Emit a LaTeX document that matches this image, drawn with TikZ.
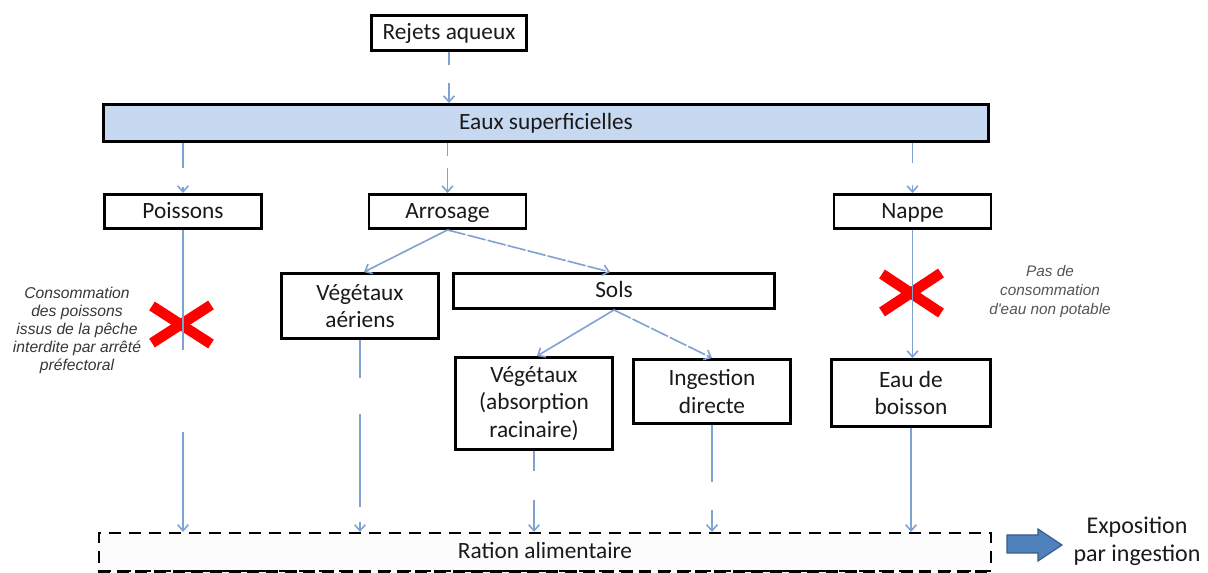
\documentclass[tikz,border=0pt]{standalone}
\usepackage{fontspec}
\setmainfont{Carlito}
\newfontfamily\notefont{Liberation Sans}
\usetikzlibrary{arrows.meta,calc}
\definecolor{conncol}{RGB}{128,162,210}
\definecolor{eauxfill}{RGB}{198,217,241}
\definecolor{arrowfill}{RGB}{79,129,189}
\definecolor{arrowline}{RGB}{56,93,138}
\definecolor{textcol}{RGB}{26,26,26}
\definecolor{noteL}{RGB}{55,55,55}
\definecolor{noteR}{RGB}{85,85,85}
\definecolor{rationfill}{RGB}{252,252,252}
\definecolor{crossred}{RGB}{255,0,0}
\begin{document}
\begin{tikzpicture}[x=0.75pt,y=-0.75pt,
  box/.style={draw=black, line width=2.2pt, fill=white, inner sep=2pt, align=center,
    text=textcol, font=\fontsize{17.5}{20.8}\selectfont},
  oneline/.style={text height=15pt, text depth=4.5pt},
  conn/.style={draw=conncol, line width=1.2pt, -{Straight Barb[length=4.5pt,width=8pt]}},
  note/.style={align=center, inner sep=0pt},
  rationbox/.style={draw=black, line width=1.6pt, dash pattern=on 9pt off 6pt, fill=rationfill,
    inner sep=2pt, text=textcol, font=\fontsize{17.5}{20.8}\selectfont}]
\useasboundingbox (0,0) rectangle (1208,573);
\fill[white] (0,0) rectangle (1208,573);

% crosses (under the connectors)
\fill[crossred] (149.2,310.4) -- (208.2,348.4) -- (213.8,339.6) -- (154.8,301.6) -- cycle;
\fill[crossred] (154.8,347.4) -- (213.8,309.4) -- (208.2,300.6) -- (149.2,338.6) -- cycle;
\fill[crossred] (879.1,278.4) -- (938.1,317.4) -- (943.9,308.6) -- (884.9,269.6) -- cycle;
\fill[crossred] (884.9,316.4) -- (943.9,277.4) -- (938.1,268.6) -- (879.1,307.6) -- cycle;

% nodes
\node[box, oneline, minimum width=116.25pt, minimum height=26.25pt] (rej) at (449,33) {Rejets aqueux};
\node[box, oneline, fill=eauxfill, minimum width=663.75pt, minimum height=27.75pt] (eaux) at (546,123) {Eaux superficielles};
\node[box, oneline, minimum width=117.75pt, minimum height=25.5pt] (poi) at (183,211.5) {Poissons};
\node[box, oneline, minimum width=117.75pt, minimum height=25.5pt] (arr) at (447.5,211.5) {Arrosage};
\node[box, oneline, minimum width=117.75pt, minimum height=25.5pt] (nap) at (912.5,211.5) {Nappe};
\node[box, minimum width=117.75pt, minimum height=48.75pt] (vaer) at (360,306) {Végétaux\\aériens};
\node[box, oneline, minimum width=240.75pt, minimum height=26.25pt] (sols) at (614,291) {Sols};
\node[box, minimum width=117.75pt, minimum height=69pt] (vrac) at (534,403.5) {Végétaux\\(absorption\\racinaire)};
\node[box, minimum width=117.75pt, minimum height=48pt] (ing) at (712,391.5) {Ingestion\\directe};
\node[box, minimum width=119.25pt, minimum height=50.25pt] (eau) at (911,393) {Eau de\\boisson};
\node[rationbox, oneline, minimum width=669pt, minimum height=28.5pt] (ration) at (545,552) {Ration alimentaire};
\draw[line width=2.8pt, dash pattern=on 9pt off 5pt] (ration.south west) -- (ration.south east);

% notes
\node[note, text=noteL, font=\notefont\itshape\fontsize{11.75}{13.5}\selectfont] (noteleft) at (77,330)
  {Consommation\\des poissons\\issus de la pêche\\interdite par arrêté\\préfectoral};
\node[note, text=noteR, font=\notefont\itshape\fontsize{11.5}{14.25}\selectfont] (noteright) at (1050,292)
  {Pas de\\consommation\\d'eau non potable};

% exposition
\draw[fill=arrowfill, draw=arrowline, line width=0.9pt]
  (1007,535) -- (1038,535) -- (1038,529) -- (1062,545) -- (1038,561) -- (1038,553) -- (1007,553) -- cycle;
\node[align=center, text=textcol, font=\fontsize{18}{21}\selectfont] (expo) at (1137,541) {Exposition\\par ingestion};

% connectors
\draw[conn, dash pattern=on 9.75pt off 13.5pt on 40pt] (rej.south) -- (rej.south |- eaux.north);
\draw[conn, dash pattern=on 18.75pt off 14.25pt on 30pt] (eaux.south -| poi.north) -- (poi.north);
\draw[conn, dash pattern=on 9.75pt off 9pt on 40pt] (eaux.south -| arr.north) -- (arr.north);
\draw[conn, dash pattern=on 15pt off 16.5pt on 30pt] (eaux.south -| nap.north) -- (nap.north);
\draw[conn] (arr.south) -- ($(vaer.north)+(4,0)$);
\draw[conn, dash pattern=on 14pt off 1.5pt] (arr.south) -- ($(sols.north)+(-4,0)$);
\draw[conn] (sols.south) -- ($(vrac.north)+(3,0)$);
\draw[conn, dash pattern=on 14pt off 1.5pt] (sols.south) -- (ing.north);
\draw[conn, dash pattern=on 90pt off 61.5pt on 200pt] (poi.south) -- (poi.south |- ration.north);
\draw[conn, dash pattern=on 28.5pt off 27pt on 69.75pt off 11pt on 100pt] (vaer.south) -- (vaer.south |- ration.north);
\draw[conn, dash pattern=on 15pt off 21.75pt on 60pt] (vrac.south) -- (vrac.south |- ration.north);
\draw[conn, dash pattern=on 42.75pt off 21pt on 60pt] (ing.south) -- (ing.south |- ration.north);
\draw[conn] (nap.south) -- (nap.south |- eau.north);
\draw[conn] (eau.south) -- (eau.south |- ration.north);
\end{tikzpicture}
\end{document}
